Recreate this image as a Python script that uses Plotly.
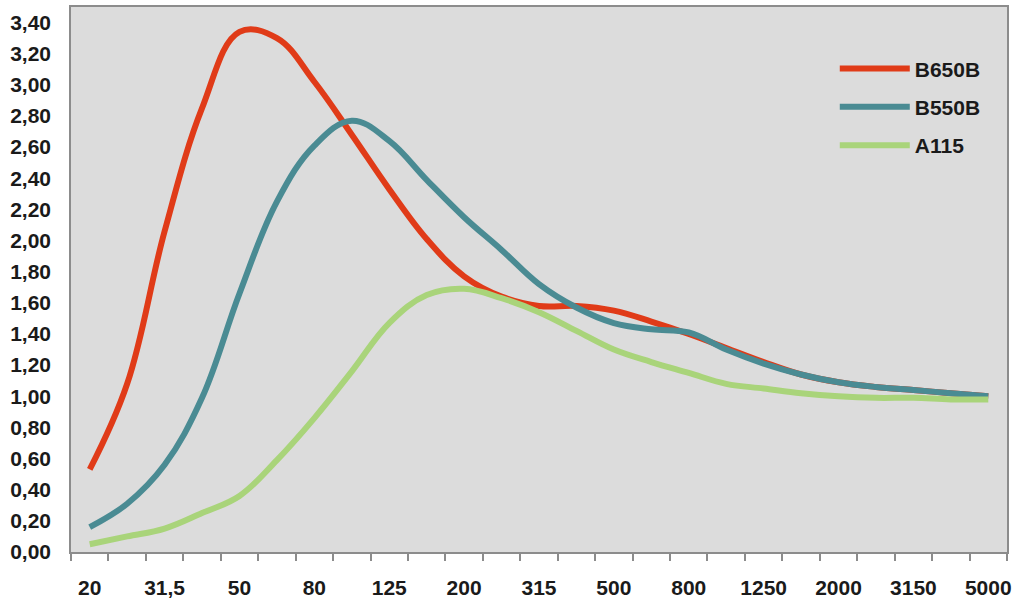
import plotly.graph_objects as go

freqs = ["20", "25", "31,5", "40", "50", "63", "80", "100", "125", "160", "200", "250",
         "315", "400", "500", "630", "800", "1000", "1250", "1600", "2000", "2500",
         "3150", "4000", "5000"]
tick_labels = [f if i % 2 == 0 else "" for i, f in enumerate(freqs)]

b650b = [0.53, 1.08, 2.06, 2.85, 3.34, 3.30, 3.02, 2.68, 2.33, 2.01, 1.77, 1.64,
         1.58, 1.58, 1.55, 1.48, 1.40, 1.31, 1.22, 1.14, 1.09, 1.06, 1.04, 1.02, 1.00]
b550b = [0.16, 0.31, 0.56, 0.99, 1.66, 2.25, 2.61, 2.77, 2.64, 2.39, 2.15, 1.94,
         1.72, 1.57, 1.47, 1.43, 1.41, 1.30, 1.21, 1.14, 1.09, 1.06, 1.04, 1.02, 1.00]
a115 = [0.05, 0.10, 0.15, 0.25, 0.36, 0.59, 0.86, 1.16, 1.47, 1.65, 1.69, 1.63,
        1.54, 1.42, 1.30, 1.22, 1.15, 1.08, 1.05, 1.02, 1.00, 0.99, 0.99, 0.98, 0.98]

series = [("B650B", b650b, "#e03b18"),
          ("B550B", b550b, "#4a8b93"),
          ("A115", a115, "#a9d47a")]

fig = go.Figure()
for name, vals, color in series:
    fig.add_trace(go.Scatter(x=freqs, y=vals, name=name, mode="lines", legendgroup=name,
                             line=dict(color=color, width=6, shape="spline", smoothing=1.1)))

font_family = "Liberation Sans, Arial, sans-serif"
fig.update_layout(
    width=1024, height=604,
    margin=dict(l=71, r=17, t=7, b=52, autoexpand=False),
    paper_bgcolor="white",
    plot_bgcolor="#dcdcdc",
    separators=", ",
    font=dict(family=font_family, size=21, color="#1a1a1a", weight="bold"),
    legend=dict(x=0.816, y=0.924, xanchor="left", yanchor="top",
                bgcolor="rgba(0,0,0,0)", itemwidth=70, tracegroupgap=8,
                traceorder="grouped",
                font=dict(family=font_family, size=21, color="#1a1a1a", weight="bold")),
    showlegend=True,
)
fig.update_xaxes(type="category", categoryorder="array", categoryarray=freqs,
                 range=[-0.5, len(freqs) - 0.5],
                 tickmode="array", tickvals=freqs, ticktext=tick_labels, tickangle=0,
                 tickson="boundaries", ticks="outside", ticklen=7, tickwidth=1.5,
                 tickcolor="#8c8c8c", showline=True, linecolor="#8c8c8c", linewidth=1.5,
                 mirror=True, showgrid=False, zeroline=False, ticklabelstandoff=16,
                 automargin=False)
fig.update_yaxes(range=[0, 3.5], tickmode="array",
                 tickvals=[round(0.2 * i, 2) for i in range(18)], tickformat=".2f",
                 ticks="", showline=True, linecolor="#8c8c8c", linewidth=1.5, mirror=True,
                 showgrid=False, zeroline=False, ticklabelstandoff=14, automargin=False)

fig.write_html("out.html", config={"displayModeBar": False},
               post_script="document.body.style.margin='0';document.body.style.overflow='hidden';")
